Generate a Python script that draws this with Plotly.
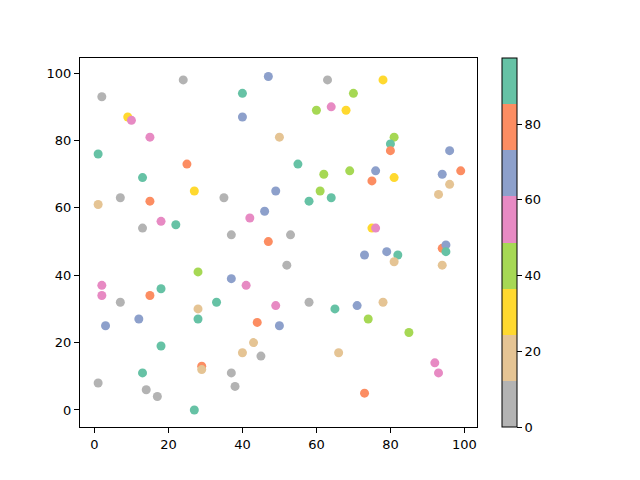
import plotly.graph_objects as go

# scatter points
x = [2, 24, 9, 10, 15, 1, 25, 13, 27, 1, 7, 15, 13, 18, 22, 35, 37, 40, 40, 47,
     50, 49, 46, 42, 53, 47, 63, 78, 70, 60, 64, 68, 55, 58, 62, 61, 64, 69, 81, 80,
     80, 76, 75, 81, 96, 94, 99, 96, 93, 75, 76, 2, 2, 7, 3, 15, 18, 12, 28, 28,
     28, 33, 37, 41, 18, 13, 29, 29, 14, 17, 1, 27, 37, 38, 40, 43, 44, 45, 49, 50,
     52, 58, 65, 71, 74, 73, 79, 82, 81, 78, 66, 73, 85, 92, 93, 94, 95, 95, 94]
y = [93, 98, 87, 86, 81, 76, 73, 69, 65, 61, 63, 62, 54, 56, 55, 63, 52, 94, 87, 99,
     81, 65, 59, 57, 52, 50, 98, 98, 94, 89, 90, 89, 73, 62, 70, 65, 63, 71, 81, 79,
     77, 71, 68, 69, 77, 70, 71, 67, 64, 54, 54, 37, 34, 32, 25, 34, 36, 27, 41, 30,
     27, 32, 39, 37, 19, 11, 13, 12, 6, 4, 8, 0, 11, 7, 17, 20, 26, 16, 31, 25,
     43, 32, 30, 31, 27, 46, 47, 46, 44, 32, 17, 5, 23, 14, 11, 48, 49, 47, 43]
# colour value of each point (middle of the colour band it falls in)
c = [6, 6, 30, 55, 55, 91, 79, 91, 30, 18, 6, 79, 6, 55, 91, 6, 6, 91, 67, 67,
     18, 67, 67, 55, 6, 79, 6, 30, 42, 42, 55, 30, 91, 91, 42, 42, 91, 42, 42, 91,
     79, 67, 79, 30, 67, 67, 79, 18, 18, 30, 55, 55, 55, 6, 67, 79, 91, 67, 42, 18,
     91, 91, 67, 55, 91, 91, 79, 18, 6, 6, 6, 91, 6, 6, 18, 18, 79, 6, 55, 67,
     6, 6, 91, 67, 42, 67, 67, 91, 18, 18, 18, 79, 42, 55, 55, 79, 67, 91, 18]

c_min, c_max = 0, 97.5
band_colors = ["#b3b3b3", "#e5c494", "#ffd92f", "#a6d854",
               "#e78ac3", "#8da0cb", "#fc8d62", "#66c2a5"]

# stepped colour scale like Set2_r
scale = []
n = len(band_colors)
for i, col in enumerate(band_colors):
    scale.append([i / n, col])
    scale.append([(i + 1) / n, col])

fig = go.Figure()
fig.add_trace(go.Scatter(
    x=x, y=y, mode="markers",
    marker=dict(
        size=9, color=c, colorscale=scale, cmin=c_min, cmax=c_max,
        line=dict(width=0),
        colorbar=dict(
            x=1.063, xanchor="left", y=0.5, len=1, lenmode="fraction",
            thickness=15, outlinecolor="black", outlinewidth=1,
            tickvals=[0, 20, 40, 60, 80], ticks="outside", ticklen=5,
            tickwidth=1, tickcolor="black", xpad=0, ypad=0,
            tickfont=dict(size=13, color="black"),
        ),
    ),
    showlegend=False,
))

axis_style = dict(
    showgrid=False, zeroline=False, showline=True, linecolor="black",
    linewidth=1, mirror=True, ticks="outside", ticklen=5, tickwidth=1,
    tickcolor="black", tickvals=[0, 20, 40, 60, 80, 100],
    tickfont=dict(size=13, color="black"),
)

# page body adds an 8px offset, so margins are shifted to compensate
fig.update_layout(
    width=640, height=480,
    margin=dict(l=72, r=171, t=50, b=61),
    paper_bgcolor="white", plot_bgcolor="white",
    font=dict(family="DejaVu Sans", color="black"),
    xaxis=dict(range=[-3.9, 103.4], **axis_style),
    yaxis=dict(range=[-5.05, 104.5], **axis_style),
)

fig.write_html("out.html")
